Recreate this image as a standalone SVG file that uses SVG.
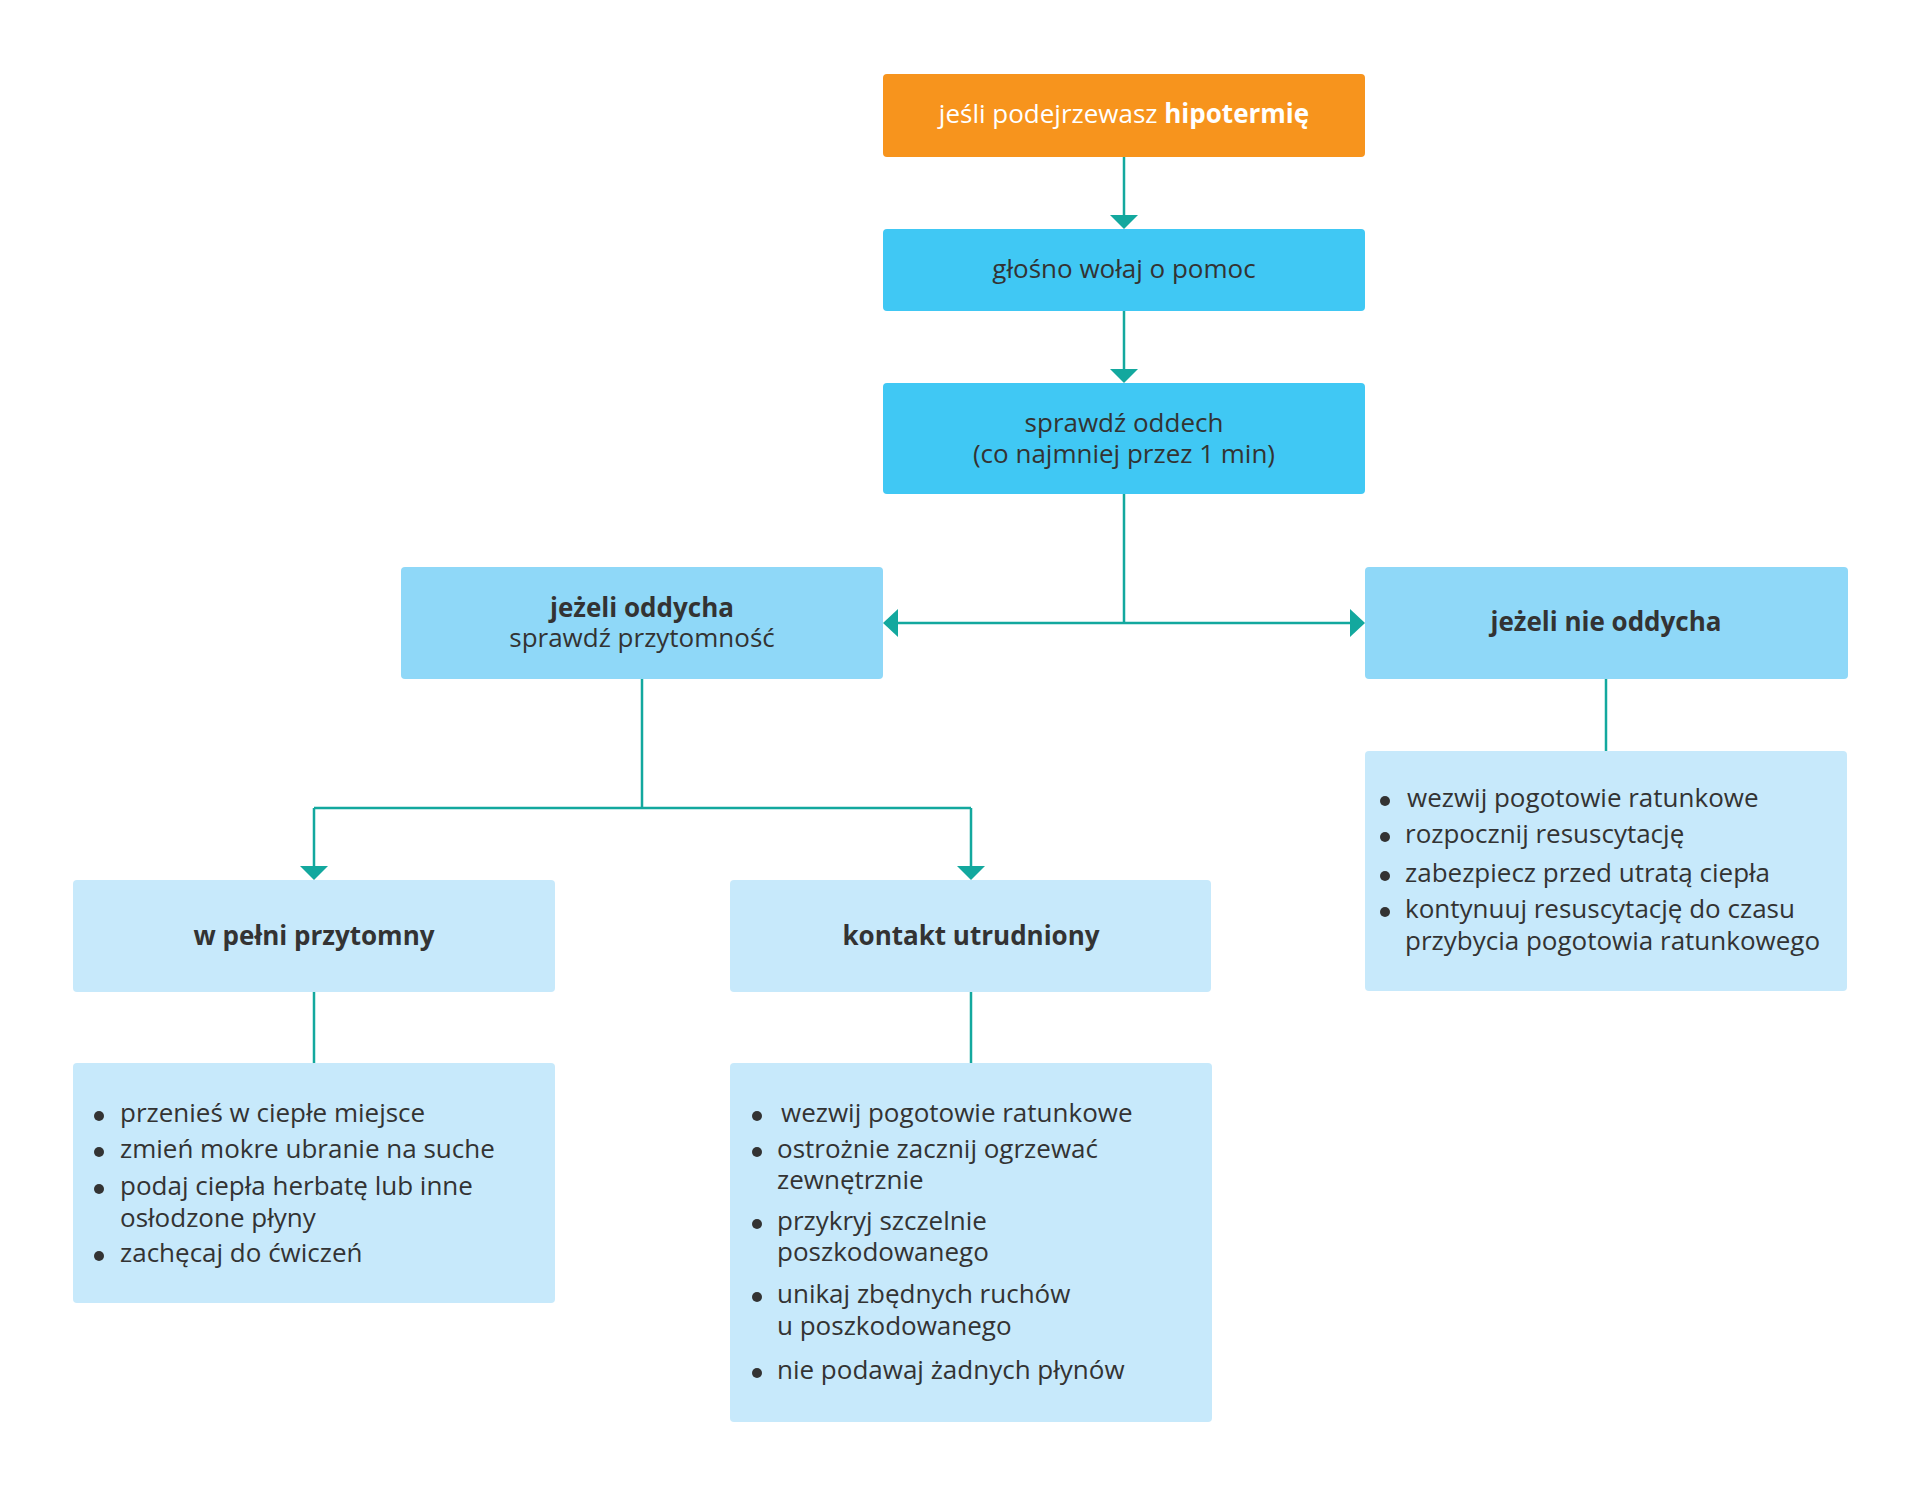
<svg xmlns="http://www.w3.org/2000/svg" width="1920" height="1495" viewBox="0 0 1920 1495">
<style>
text{font-family:"Open Sans","Noto Sans","Liberation Sans",sans-serif;font-size:26px;fill:#333333}
.c{text-anchor:middle}
.b{font-weight:bold}
.w{fill:#ffffff}
.orange{fill:#F7941D}
.blue{fill:#40C8F4}
.mid{fill:#8FD8F8}
.light{fill:#C7E9FB}
.line{stroke:#13A89E;stroke-width:2.5;fill:none}
.head{fill:#13A89E}
.dot{fill:#333333}
</style>
<rect width="1920" height="1495" fill="#ffffff"/>
<g id="connectors">
<path class="line" d="M1124 157V216"/>
<polygon class="head" points="1110,215 1138,215 1124,229"/>
<path class="line" d="M1124 311V370"/>
<polygon class="head" points="1110,369 1138,369 1124,383"/>
<path class="line" d="M1124 494V623M897 623H1351"/>
<polygon class="head" points="898,609 898,637 883,623"/>
<polygon class="head" points="1350,609 1350,637 1365,623"/>
<path class="line" d="M642 679V808M314 808H971M314 808V867M971 808V867"/>
<polygon class="head" points="300,866 328,866 314,880"/>
<polygon class="head" points="957,866 985,866 971,880"/>
<path class="line" d="M1606 679V751"/>
<path class="line" d="M314 992V1063"/>
<path class="line" d="M971 992V1063"/>
</g>
<g id="n1"><rect class="orange" x="883" y="74" width="482" height="83" rx="4"/>
<text class="c w" x="1124" y="123">jeśli podejrzewasz <tspan class="b">hipotermię</tspan></text></g>
<g id="n2"><rect class="blue" x="883" y="229" width="482" height="82" rx="4"/>
<text class="c" x="1124" y="278">głośno wołaj o pomoc</text></g>
<g id="n3"><rect class="blue" x="883" y="383" width="482" height="111" rx="4"/>
<text class="c" x="1124" y="432">sprawdź oddech</text>
<text class="c" x="1124" y="463">(co najmniej przez 1 min)</text></g>
<g id="n4"><rect class="mid" x="401" y="567" width="482" height="112" rx="4"/>
<text class="c b" x="642" y="617">jeżeli oddycha</text>
<text class="c" x="642" y="647">sprawdź przytomność</text></g>
<g id="n5"><rect class="mid" x="1365" y="567" width="483" height="112" rx="4"/>
<text class="c b" x="1606" y="631">jeżeli nie oddycha</text></g>
<g id="n6"><rect class="light" x="1365" y="751" width="482" height="240" rx="4"/>
<circle class="dot" cx="1385" cy="801" r="5"/><text x="1407" y="807">wezwij pogotowie ratunkowe</text>
<circle class="dot" cx="1385" cy="837" r="5"/><text x="1405" y="843">rozpocznij resuscytację</text>
<circle class="dot" cx="1385" cy="876" r="5"/><text x="1405" y="882">zabezpiecz przed utratą ciepła</text>
<circle class="dot" cx="1385" cy="912" r="5"/><text x="1405" y="918">kontynuuj resuscytację do czasu</text>
<text x="1405" y="950">przybycia pogotowia ratunkowego</text></g>
<g id="n7"><rect class="light" x="73" y="880" width="482" height="112" rx="4"/>
<text class="c b" x="314" y="945">w pełni przytomny</text></g>
<g id="n8"><rect class="light" x="730" y="880" width="481" height="112" rx="4"/>
<text class="c b" x="971" y="945">kontakt utrudniony</text></g>
<g id="n9"><rect class="light" x="73" y="1063" width="482" height="240" rx="4"/>
<circle class="dot" cx="99" cy="1116" r="5"/><text x="120" y="1122">przenieś w ciepłe miejsce</text>
<circle class="dot" cx="99" cy="1152" r="5"/><text x="120" y="1158">zmień mokre ubranie na suche</text>
<circle class="dot" cx="99" cy="1189" r="5"/><text x="120" y="1195">podaj ciepła herbatę lub inne</text>
<text x="120" y="1227">osłodzone płyny</text>
<circle class="dot" cx="99" cy="1256" r="5"/><text x="120" y="1262">zachęcaj do ćwiczeń</text></g>
<g id="n10"><rect class="light" x="730" y="1063" width="482" height="359" rx="4"/>
<circle class="dot" cx="757" cy="1116" r="5"/><text x="781" y="1122">wezwij pogotowie ratunkowe</text>
<circle class="dot" cx="757" cy="1152" r="5"/><text x="777" y="1158">ostrożnie zacznij ogrzewać</text>
<text x="777" y="1189">zewnętrznie</text>
<circle class="dot" cx="757" cy="1224" r="5"/><text x="777" y="1230">przykryj szczelnie</text>
<text x="777" y="1261">poszkodowanego</text>
<circle class="dot" cx="757" cy="1297" r="5"/><text x="777" y="1303">unikaj zbędnych ruchów</text>
<text x="777" y="1335">u poszkodowanego</text>
<circle class="dot" cx="757" cy="1373" r="5"/><text x="777" y="1379">nie podawaj żadnych płynów</text></g>
</svg>
